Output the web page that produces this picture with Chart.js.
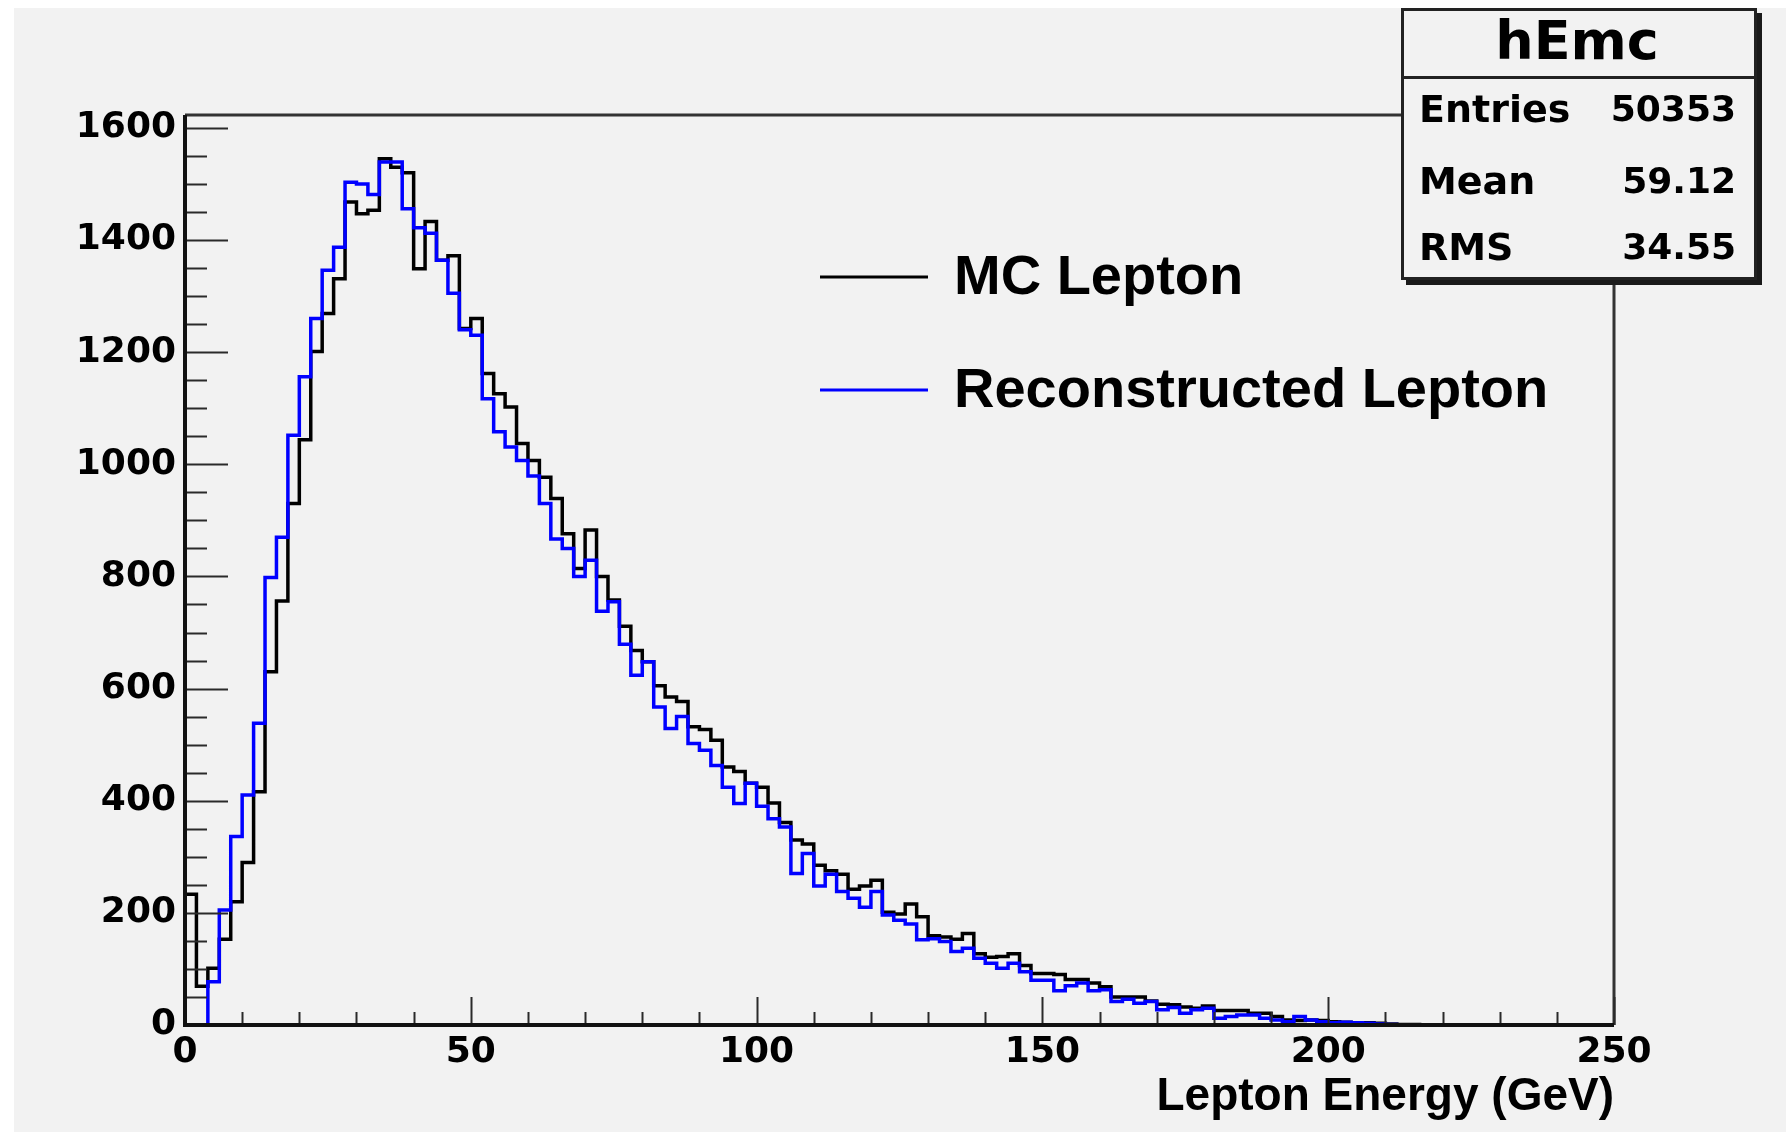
<!DOCTYPE html>
<html>
<head>
<meta charset="utf-8">
<script src="https://cdn.jsdelivr.net/npm/chart.js@4.4.1/dist/chart.umd.min.js"></script>
<style>
  html, body { margin: 0; padding: 0; background: #fff; }
  #wrap { width: 1786px; height: 1132px; }
</style>
</head>
<body>
<div id="wrap"><canvas id="c" width="1786" height="1132"></canvas></div>
<script>
// binning of hEmc (2 GeV bins, 0-250 GeV)
var xMin = 0, xMax = 250, binWidth = 2;
var yMax = 1623;

// bin contents
var mcLepton = [
  233, 69, 101, 153, 220, 290, 416, 630, 756, 930,
  1044, 1201, 1269, 1331, 1468, 1447, 1453, 1545, 1530, 1520,
  1349, 1433, 1364, 1372, 1242, 1260, 1162, 1126, 1102, 1037,
  1007, 977, 939, 876, 814, 883, 800, 758, 711, 668,
  648, 605, 585, 577, 532, 527, 508, 460, 452, 431,
  424, 396, 361, 330, 323, 285, 275, 269, 242, 248,
  258, 201, 198, 216, 193, 159, 157, 153, 163, 127,
  121, 122, 127, 106, 92, 92, 90, 81, 81, 75,
  68, 50, 50, 50, 43, 37, 36, 32, 30, 34,
  26, 26, 26, 21, 21, 15, 9, 8, 9, 8,
  6, 5, 4, 4, 3, 2, 1, 1, 0, 0,
  0, 0, 0, 0, 0, 0, 0, 0, 0, 0,
  0, 0, 0, 0, 0
];
var recoLepton = [
  0, 0, 77, 205, 336, 410, 538, 798, 870, 1052,
  1156, 1260, 1346, 1387, 1503, 1500, 1481, 1539, 1539, 1456,
  1422, 1412, 1364, 1305, 1240, 1230, 1117, 1058, 1031, 1007,
  979, 930, 867, 850, 800, 829, 738, 755, 679, 624,
  648, 567, 529, 550, 502, 490, 463, 424, 395, 431,
  390, 368, 353, 270, 306, 248, 269, 238, 226, 210,
  238, 196, 187, 180, 152, 154, 149, 131, 137, 119,
  110, 101, 110, 95, 80, 80, 61, 70, 75, 61,
  63, 42, 46, 39, 42, 27, 31, 21, 27, 30,
  12, 15, 18, 18, 12, 9, 6, 15, 9, 6,
  4, 5, 4, 3, 2, 1, 0, 0, 0, 0,
  0, 0, 0, 0, 0, 0, 0, 0, 0, 0,
  0, 0, 0, 0, 0
];
var seriesNames = ['MC Lepton', 'Reconstructed Lepton'];
var seriesColors = ['#000000', '#0000ff'];

var xTickValues = [0, 50, 100, 150, 200, 250];
var yTickValues = [0, 200, 400, 600, 800, 1000, 1200, 1400, 1600];
var xTitle = 'Lepton Energy (GeV)';
var statsTitle = 'hEmc';
var statsNames = ['Entries', 'Mean', 'RMS'];
var statsValues = ['50353', '59.12', '34.55'];

function histPoints(vals) {
  var pts = vals.map(function(v, i) { return { x: xMin + i * binWidth, y: v }; });
  pts.push({ x: xMin + vals.length * binWidth, y: vals[vals.length - 1] });
  return pts;
}

var tickFont = '"DejaVu Sans", sans-serif';

// ROOT style canvas: grey pad, frame, inward ticks, legend, stats box
var rootPad = {
  id: 'rootPad',
  beforeDraw: function(chart) {
    var ctx = chart.ctx;
    ctx.save();
    ctx.fillStyle = '#ffffff';
    ctx.fillRect(0, 0, chart.width, chart.height);
    ctx.fillStyle = '#f2f2f2';
    ctx.fillRect(14, 8, chart.width - 14, chart.height - 8);
    ctx.restore();
  },
  afterDraw: function(chart) {
    var ctx = chart.ctx;
    var a = chart.chartArea;
    var xs = chart.scales.x, ys = chart.scales.y;
    ctx.save();

    // frame top / right
    ctx.strokeStyle = '#333';
    ctx.lineWidth = 3;
    ctx.beginPath();
    ctx.moveTo(a.left, a.top); ctx.lineTo(a.right, a.top); ctx.lineTo(a.right, a.bottom);
    ctx.stroke();

    // y ticks
    ctx.strokeStyle = '#2a2a2a';
    ctx.lineWidth = 2;
    for (var v = 0; v <= yMax; v += 50) {
      var py = Math.round(ys.getPixelForValue(v)) + 0.5;
      var len = (v % 200 === 0) ? 43 : 22;
      ctx.beginPath(); ctx.moveTo(a.left, py); ctx.lineTo(a.left + len, py); ctx.stroke();
    }
    // x ticks
    for (var e = xMin; e <= xMax; e += 10) {
      var px = Math.round(xs.getPixelForValue(e)) + 0.5;
      var l2 = (e % 50 === 0) ? 28 : 13;
      ctx.beginPath(); ctx.moveTo(px, a.bottom); ctx.lineTo(px, a.bottom - l2); ctx.stroke();
    }

    // axes
    ctx.strokeStyle = '#111';
    ctx.lineWidth = 4;
    ctx.beginPath();
    ctx.moveTo(a.left, a.top); ctx.lineTo(a.left, a.bottom); ctx.lineTo(a.right, a.bottom);
    ctx.stroke();

    // legend
    var rows = [277, 390];
    ctx.font = 'bold 56px "Liberation Sans", sans-serif';
    ctx.textBaseline = 'middle';
    ctx.textAlign = 'left';
    chart.data.datasets.forEach(function(ds, i) {
      ctx.strokeStyle = ds.borderColor;
      ctx.lineWidth = 3;
      ctx.beginPath(); ctx.moveTo(820, rows[i]); ctx.lineTo(928, rows[i]); ctx.stroke();
      ctx.fillStyle = '#000';
      ctx.fillText(ds.label, 954, rows[i] + 2);
    });

    // stats box
    var bx = 1401, by = 8, bw = 356, bh = 272;
    ctx.fillStyle = '#1a1a1a';
    ctx.fillRect(bx + 5, by + bh, bw, 5);
    ctx.fillRect(bx + bw, by + 5, 5, bh);
    ctx.fillStyle = '#f2f2f2';
    ctx.fillRect(bx, by, bw, bh);
    ctx.strokeStyle = '#222';
    ctx.lineWidth = 3;
    ctx.strokeRect(bx + 1.5, by + 1.5, bw - 3, bh - 3);
    ctx.beginPath(); ctx.moveTo(bx, 77.5); ctx.lineTo(bx + bw, 77.5); ctx.stroke();

    ctx.fillStyle = '#000';
    ctx.textAlign = 'center';
    ctx.font = 'bold 54px ' + tickFont;
    ctx.fillText(statsTitle, 1577, 45);
    var statY = [112, 184, 250];
    statsNames.forEach(function(n, i) {
      ctx.textAlign = 'left';
      ctx.font = 'bold 38px ' + tickFont;
      ctx.fillText(n, 1419, statY[i]);
      ctx.textAlign = 'right';
      ctx.font = 'bold 36px ' + tickFont;
      ctx.fillText(statsValues[i], 1736, statY[i]);
    });
    ctx.restore();
  }
};

function fixedTicks(values) {
  return function(scale) {
    scale.ticks = values.map(function(v) { return { value: v }; });
  };
}

new Chart(document.getElementById('c').getContext('2d'), {
  type: 'line',
  data: {
    datasets: [
      { label: seriesNames[0], data: histPoints(mcLepton), borderColor: seriesColors[0],
        borderWidth: 3.5, stepped: 'before', pointRadius: 0, fill: false, order: 1 },
      { label: seriesNames[1], data: histPoints(recoLepton), borderColor: seriesColors[1],
        borderWidth: 3.5, stepped: 'before', pointRadius: 0, fill: false, order: 0 }
    ]
  },
  options: {
    responsive: false,
    animation: false,
    devicePixelRatio: 1,
    layout: { padding: { left: 0, top: 115, right: 172, bottom: 0 } },
    plugins: { legend: { display: false }, tooltip: { enabled: false } },
    scales: {
      x: {
        type: 'linear', min: xMin, max: xMax,
        grid: { display: false, drawTicks: false },
        border: { display: false },
        afterBuildTicks: fixedTicks(xTickValues),
        ticks: { maxRotation: 0, autoSkip: false, padding: 6, color: '#000',
                 callback: function(v) { return String(v); },
                 font: { family: tickFont, weight: 'bold', size: 36 } },
        title: { display: true, text: xTitle, align: 'end', color: '#000',
                 padding: { top: 0, bottom: 7 },
                 font: { family: '"Liberation Sans", sans-serif', weight: 'bold', size: 46 } },
        afterFit: function(s) { s.height = 107; }
      },
      y: {
        min: 0, max: yMax,
        grid: { display: false, drawTicks: false },
        border: { display: false },
        afterBuildTicks: fixedTicks(yTickValues),
        ticks: { padding: 9, color: '#000',
                 callback: function(v) { return String(v); },
                 font: { family: tickFont, weight: 'bold', size: 36 } },
        afterFit: function(s) { s.width = 185; }
      }
    }
  },
  plugins: [rootPad]
});
</script>
</body>
</html>
